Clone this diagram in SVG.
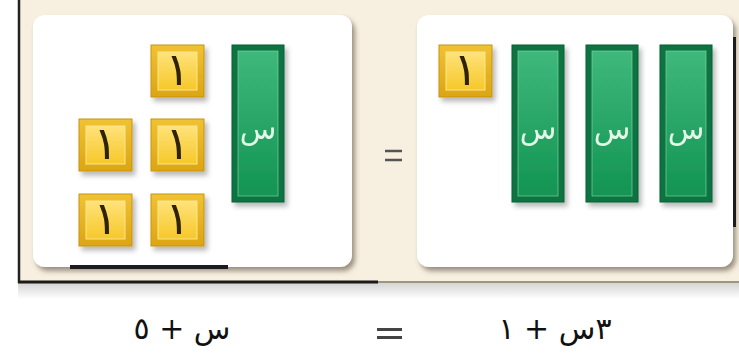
<svg xmlns="http://www.w3.org/2000/svg" width="739" height="358" viewBox="0 0 739 358">
<defs>
<linearGradient id="tileOuter" x1="0" y1="0" x2="0" y2="1"><stop offset="0" stop-color="#f0c232"/><stop offset="1" stop-color="#dca512"/></linearGradient>
<linearGradient id="tileInner" x1="0" y1="0" x2="0" y2="1"><stop offset="0" stop-color="#ffe27a"/><stop offset="1" stop-color="#f6c82a"/></linearGradient>
<linearGradient id="barInner" x1="0" y1="0" x2="0" y2="1"><stop offset="0" stop-color="#3fb87c"/><stop offset="1" stop-color="#129452"/></linearGradient>
<linearGradient id="floorShade" x1="0" y1="0" x2="0" y2="1"><stop offset="0" stop-color="#d4d4d4"/><stop offset="1" stop-color="#ffffff"/></linearGradient>
<filter id="sh" x="-30%" y="-30%" width="160%" height="160%"><feDropShadow dx="3" dy="4" stdDeviation="2.5" flood-color="#000" flood-opacity="0.28"/></filter>
<filter id="boxsh" x="-10%" y="-10%" width="120%" height="120%"><feDropShadow dx="3" dy="4" stdDeviation="2.5" flood-color="#5a5040" flood-opacity="0.6"/></filter>
<g id="tile">
<rect x="0" y="0" width="53" height="52" fill="url(#tileOuter)" stroke="#c79310" stroke-width="1"/>
<rect x="7" y="7" width="39" height="38" fill="url(#tileInner)" stroke="#fbe590" stroke-width="1"/>
<text x="26.5" y="40" class="one">١</text>
</g>
<g id="bar">
<rect x="0" y="0" width="52" height="157" fill="#0d7340" stroke="#0a5e34" stroke-width="1"/>
<rect x="6" y="6" width="40" height="145" fill="url(#barInner)" stroke="#7ad3a2" stroke-width="1" stroke-opacity="0.7"/>
<text x="26" y="94" class="x">س</text>
</g>
</defs>
<style>
.one{font-family:"DejaVu Sans",sans-serif;font-size:46px;fill:#2e2200;text-anchor:middle}
.x{font-family:"DejaVu Sans",sans-serif;font-size:30px;fill:#e4f8e8;text-anchor:middle}
.eq{font-family:"DejaVu Sans",sans-serif;font-size:30px;fill:#111;text-anchor:middle}
.box{fill:#ffffff}
</style>
<rect x="0" y="0" width="739" height="358" fill="#ffffff"/>
<rect x="18" y="283" width="721" height="16" fill="url(#floorShade)"/>
<g id="frame">
<rect x="19" y="0" width="720" height="282" fill="#f7efdf"/>
<line x1="19" y1="0" x2="19" y2="283" stroke="#222" stroke-width="2.5"/>
<line x1="18" y1="282" x2="378" y2="282" stroke="#1c1a16" stroke-width="3"/>
<line x1="378" y1="282" x2="739" y2="282" stroke="#9d9484" stroke-width="2"/>
</g>
<g id="left-box">
<rect x="33" y="15" width="319" height="252" rx="12" class="box" filter="url(#boxsh)"/>
<line x1="70" y1="267" x2="228" y2="267" stroke="#1c1c1c" stroke-width="4"/>
</g>
<g id="left-tiles" filter="url(#sh)">
<use href="#tile" x="151" y="45"/>
<use href="#tile" x="79" y="119"/>
<use href="#tile" x="151" y="119"/>
<use href="#tile" x="79" y="194"/>
<use href="#tile" x="151" y="194"/>
<use href="#bar" x="232" y="45"/>
</g>
<g id="equals-mid">
<line x1="385" y1="151" x2="402" y2="151" stroke="#555" stroke-width="2.5"/>
<line x1="385" y1="160" x2="402" y2="160" stroke="#555" stroke-width="2.5"/>
</g>
<g id="right-box">
<rect x="417" y="15" width="316" height="252" rx="12" class="box" filter="url(#boxsh)"/>
<line x1="734.5" y1="37" x2="734.5" y2="227" stroke="#1c1c1c" stroke-width="3"/>
</g>
<g id="right-tiles" filter="url(#sh)">
<use href="#tile" x="439" y="45"/>
<use href="#bar" x="512" y="45"/>
<use href="#bar" x="586" y="45"/>
<use href="#bar" x="660" y="45"/>
</g>
<g id="equation">
<text x="182" y="339" class="eq">س + ٥</text>
<line x1="377" y1="329.5" x2="402" y2="329.5" stroke="#444" stroke-width="3"/>
<line x1="377" y1="337.5" x2="402" y2="337.5" stroke="#444" stroke-width="3"/>
<text x="555" y="339" class="eq">٣س + ١</text>
</g>
</svg>
